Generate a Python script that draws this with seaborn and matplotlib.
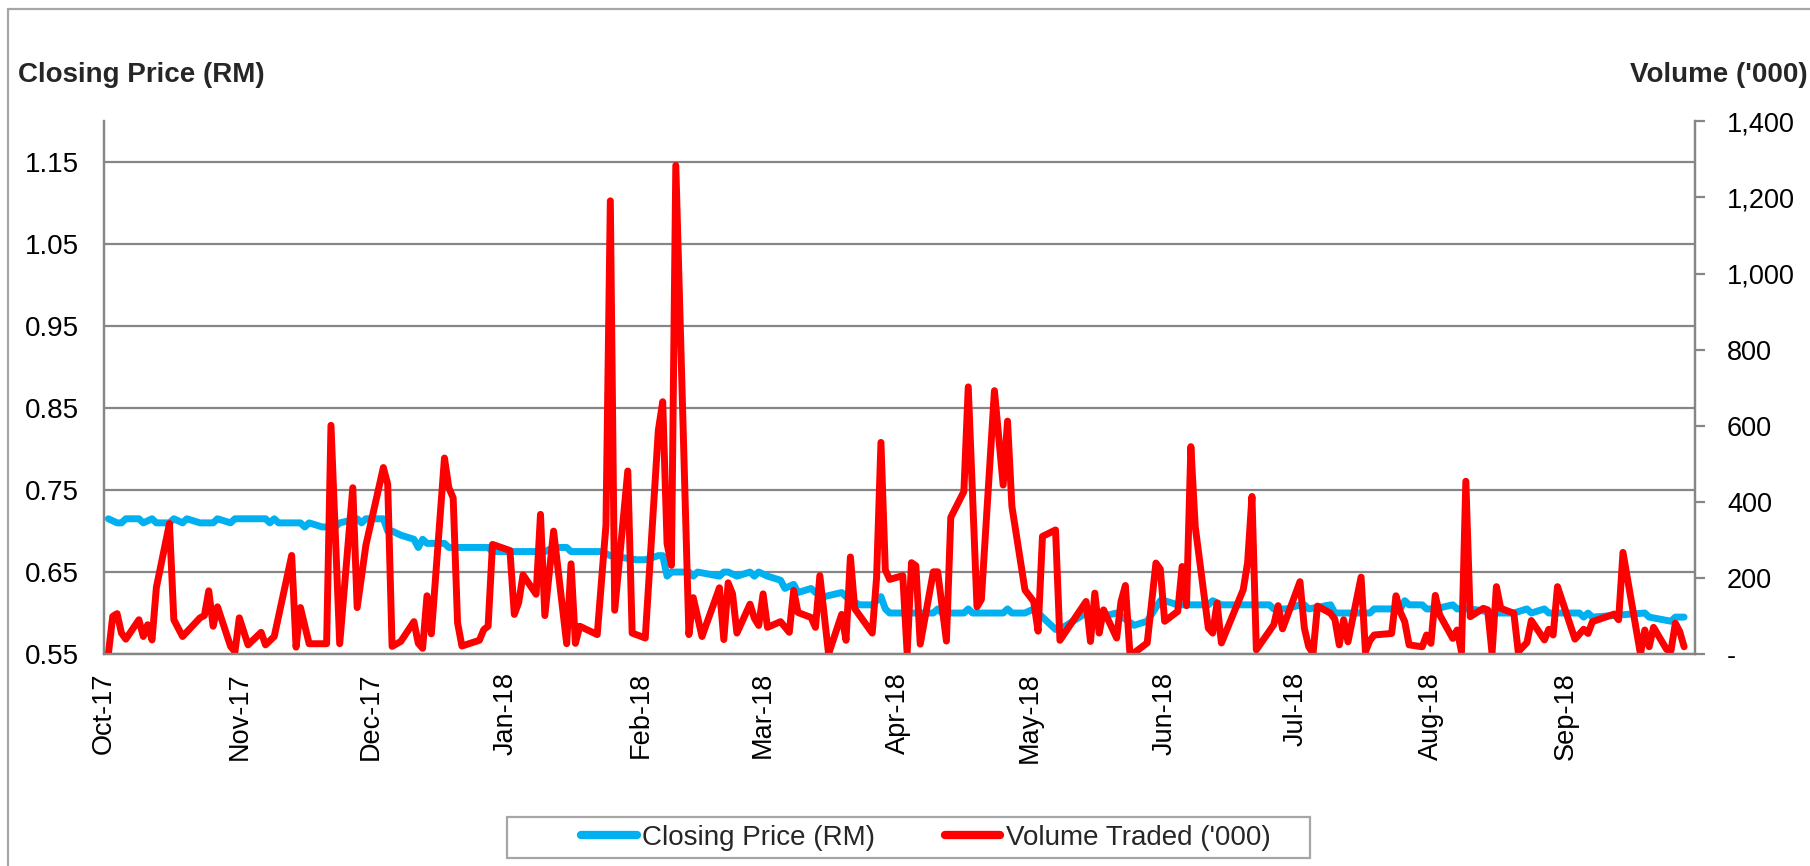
import numpy as np
import pandas as pd
import seaborn as sns
import matplotlib.pyplot as plt
import matplotlib.dates as mdates
from matplotlib.ticker import FuncFormatter
from matplotlib.lines import Line2D
from matplotlib.patches import Rectangle

# volume traded ('000), trading days
vol_dates = [
    '2017-10-02', '2017-10-03', '2017-10-04', '2017-10-05', '2017-10-06', '2017-10-09', '2017-10-10', '2017-10-11', '2017-10-12', '2017-10-13',
    '2017-10-16', '2017-10-17', '2017-10-19', '2017-10-23', '2017-10-24', '2017-10-25', '2017-10-26', '2017-10-27', '2017-10-30', '2017-10-31',
    '2017-11-01', '2017-11-03', '2017-11-06', '2017-11-07', '2017-11-09', '2017-11-13', '2017-11-14', '2017-11-15', '2017-11-17', '2017-11-20',
    '2017-11-21', '2017-11-22', '2017-11-24', '2017-11-27', '2017-11-28', '2017-11-30', '2017-12-04', '2017-12-05', '2017-12-06', '2017-12-08',
    '2017-12-11', '2017-12-12', '2017-12-13', '2017-12-14', '2017-12-15', '2017-12-18', '2017-12-19', '2017-12-20', '2017-12-21', '2017-12-22',
    '2017-12-26', '2017-12-27', '2017-12-28', '2017-12-29', '2018-01-02', '2018-01-03', '2018-01-04', '2018-01-05', '2018-01-08', '2018-01-09',
    '2018-01-10', '2018-01-12', '2018-01-15', '2018-01-16', '2018-01-17', '2018-01-18', '2018-01-22', '2018-01-24', '2018-01-25', '2018-01-26',
    '2018-01-29', '2018-01-30', '2018-02-02', '2018-02-05', '2018-02-06', '2018-02-07', '2018-02-08', '2018-02-09', '2018-02-12', '2018-02-13',
    '2018-02-15', '2018-02-19', '2018-02-20', '2018-02-21', '2018-02-22', '2018-02-23', '2018-02-26', '2018-02-27', '2018-02-28', '2018-03-01',
    '2018-03-02', '2018-03-05', '2018-03-07', '2018-03-08', '2018-03-09', '2018-03-12', '2018-03-13', '2018-03-14', '2018-03-16', '2018-03-19',
    '2018-03-20', '2018-03-21', '2018-03-22', '2018-03-26', '2018-03-27', '2018-03-28', '2018-03-29', '2018-03-30', '2018-04-02', '2018-04-03',
    '2018-04-04', '2018-04-05', '2018-04-06', '2018-04-09', '2018-04-10', '2018-04-12', '2018-04-13', '2018-04-16', '2018-04-17', '2018-04-19',
    '2018-04-20', '2018-04-23', '2018-04-25', '2018-04-26', '2018-04-27', '2018-04-30', '2018-05-02', '2018-05-03', '2018-05-04', '2018-05-07',
    '2018-05-08', '2018-05-14', '2018-05-15', '2018-05-16', '2018-05-17', '2018-05-18', '2018-05-21', '2018-05-22', '2018-05-23', '2018-05-24',
    '2018-05-25', '2018-05-28', '2018-05-30', '2018-05-31', '2018-06-01', '2018-06-04', '2018-06-05', '2018-06-06', '2018-06-07', '2018-06-08',
    '2018-06-11', '2018-06-12', '2018-06-13', '2018-06-14', '2018-06-19', '2018-06-20', '2018-06-21', '2018-06-22', '2018-06-26', '2018-06-27',
    '2018-06-28', '2018-07-02', '2018-07-03', '2018-07-04', '2018-07-05', '2018-07-06', '2018-07-09', '2018-07-10', '2018-07-11', '2018-07-12',
    '2018-07-13', '2018-07-16', '2018-07-17', '2018-07-18', '2018-07-19', '2018-07-23', '2018-07-24', '2018-07-25', '2018-07-26', '2018-07-27',
    '2018-07-30', '2018-07-31', '2018-08-01', '2018-08-02', '2018-08-03', '2018-08-06', '2018-08-07', '2018-08-08', '2018-08-09', '2018-08-10',
    '2018-08-13', '2018-08-14', '2018-08-15', '2018-08-16', '2018-08-17', '2018-08-20', '2018-08-21', '2018-08-23', '2018-08-24', '2018-08-27',
    '2018-08-28', '2018-08-29', '2018-08-30', '2018-09-03', '2018-09-05', '2018-09-06', '2018-09-07', '2018-09-12', '2018-09-13', '2018-09-14',
    '2018-09-18', '2018-09-19', '2018-09-20', '2018-09-21', '2018-09-24', '2018-09-25', '2018-09-26', '2018-09-27', '2018-09-28',
]
vol_values = [
    0, 99, 106, 55, 39, 90, 46, 77, 37, 175,
    343, 90, 46, 95, 101, 166, 73, 124, 20, 6,
    95, 24, 57, 24, 46, 259, 18, 122, 27, 27,
    27, 601, 27, 437, 122, 286, 490, 446, 20, 33,
    85, 28, 15, 153, 53, 515, 437, 410, 82, 21,
    36, 64, 73, 288, 272, 104, 135, 208, 157, 367,
    101, 323, 27, 237, 28, 73, 51, 339, 1191, 115,
    481, 55, 42, 588, 663, 290, 233, 1284, 51, 148,
    46, 174, 38, 187, 158, 55, 131, 94, 75, 158,
    70, 85, 57, 167, 109, 96, 70, 206, 0, 104,
    36, 255, 119, 55, 201, 556, 221, 196, 206, 2,
    240, 232, 26, 216, 216, 34, 359, 427, 702, 124,
    143, 692, 444, 612, 388, 168, 138, 60, 309, 326,
    36, 138, 33, 160, 55, 116, 42, 138, 180, 7,
    3, 29, 239, 223, 86, 112, 230, 127, 545, 335,
    68, 55, 134, 29, 169, 240, 414, 11, 77, 127,
    66, 190, 68, 19, 2, 126, 107, 91, 24, 90,
    32, 202, 6, 35, 50, 54, 153, 110, 85, 24,
    19, 50, 28, 154, 103, 41, 63, 6, 454, 98,
    120, 116, 2, 177, 120, 107, 6, 30, 88, 37,
    65, 50, 177, 39, 65, 54, 85, 105, 90, 267,
    0, 63, 19, 70, 12, 9, 81, 59, 19,
]

# closing price (RM), turning points
price_dates = [
    '2017-10-02', '2017-10-04', '2017-10-05', '2017-10-06', '2017-10-09', '2017-10-10', '2017-10-12', '2017-10-13', '2017-10-16', '2017-10-17',
    '2017-10-19', '2017-10-20', '2017-10-23', '2017-10-26', '2017-10-27', '2017-10-30', '2017-10-31', '2017-11-07', '2017-11-08', '2017-11-09',
    '2017-11-10', '2017-11-15', '2017-11-16', '2017-11-17', '2017-11-20', '2017-11-23', '2017-11-24', '2017-11-28', '2017-11-29', '2017-11-30',
    '2017-12-04', '2017-12-05', '2017-12-06', '2017-12-08', '2017-12-11', '2017-12-12', '2017-12-13', '2017-12-14', '2017-12-18', '2017-12-19',
    '2017-12-28', '2017-12-29', '2018-01-10', '2018-01-12', '2018-01-15', '2018-01-16', '2018-01-23', '2018-01-25', '2018-01-31', '2018-02-02',
    '2018-02-05', '2018-02-06', '2018-02-07', '2018-02-08', '2018-02-12', '2018-02-13', '2018-02-14', '2018-02-19', '2018-02-20', '2018-02-21',
    '2018-02-23', '2018-02-26', '2018-02-27', '2018-02-28', '2018-03-02', '2018-03-05', '2018-03-06', '2018-03-08', '2018-03-09', '2018-03-12',
    '2018-03-13', '2018-03-15', '2018-03-19', '2018-03-20', '2018-03-23', '2018-03-26', '2018-03-28', '2018-03-29', '2018-03-30', '2018-04-09',
    '2018-04-10', '2018-04-11', '2018-04-16', '2018-04-17', '2018-04-18', '2018-04-25', '2018-04-26', '2018-04-27', '2018-04-30', '2018-05-02',
    '2018-05-03', '2018-05-04', '2018-05-07', '2018-05-08', '2018-05-14', '2018-05-17', '2018-05-21', '2018-05-25', '2018-05-28', '2018-05-31',
    '2018-06-01', '2018-06-04', '2018-06-11', '2018-06-12', '2018-06-14', '2018-06-22', '2018-06-25', '2018-06-26', '2018-06-29', '2018-07-02',
    '2018-07-03', '2018-07-04', '2018-07-09', '2018-07-10', '2018-07-18', '2018-07-19', '2018-07-25', '2018-07-26', '2018-07-27', '2018-07-30',
    '2018-07-31', '2018-08-02', '2018-08-06', '2018-08-07', '2018-08-10', '2018-08-16', '2018-08-20', '2018-08-23', '2018-08-24', '2018-08-27',
    '2018-08-28', '2018-09-03', '2018-09-04', '2018-09-05', '2018-09-06', '2018-09-07', '2018-09-19', '2018-09-20', '2018-09-25', '2018-09-26',
    '2018-09-28',
]
price_values = [
    0.715, 0.71, 0.71, 0.715, 0.715, 0.71, 0.715, 0.71, 0.71, 0.715,
    0.71, 0.715, 0.71, 0.71, 0.715, 0.71, 0.715, 0.715, 0.71, 0.715,
    0.71, 0.71, 0.705, 0.71, 0.705, 0.705, 0.71, 0.715, 0.71, 0.715,
    0.715, 0.70, 0.70, 0.695, 0.69, 0.68, 0.69, 0.685, 0.685, 0.68,
    0.68, 0.675, 0.675, 0.68, 0.68, 0.675, 0.675, 0.67, 0.665, 0.665,
    0.67, 0.67, 0.645, 0.65, 0.65, 0.645, 0.65, 0.645, 0.65, 0.65,
    0.645, 0.65, 0.645, 0.65, 0.645, 0.64, 0.63, 0.635, 0.625, 0.63,
    0.625, 0.62, 0.625, 0.62, 0.61, 0.61, 0.62, 0.605, 0.60, 0.60,
    0.605, 0.60, 0.60, 0.605, 0.60, 0.60, 0.605, 0.60, 0.60, 0.605,
    0.60, 0.595, 0.58, 0.58, 0.60, 0.595, 0.60, 0.585, 0.59, 0.615,
    0.615, 0.61, 0.61, 0.615, 0.61, 0.61, 0.61, 0.605, 0.605, 0.61,
    0.61, 0.605, 0.61, 0.60, 0.60, 0.605, 0.605, 0.615, 0.61, 0.61,
    0.605, 0.605, 0.61, 0.605, 0.605, 0.60, 0.60, 0.605, 0.60, 0.605,
    0.60, 0.60, 0.60, 0.595, 0.60, 0.595, 0.60, 0.595, 0.59, 0.595,
    0.595,
]

price_ticks = [0.55, 0.65, 0.75, 0.85, 0.95, 1.05, 1.15]
vol_ticks = [0, 200, 400, 600, 800, 1000, 1200, 1400]

vol = pd.DataFrame({'date': pd.to_datetime(vol_dates), 'volume': vol_values})
price = pd.DataFrame({'date': pd.to_datetime(price_dates), 'price': price_values})

sns.set_theme(style='white')
plt.rcParams['font.family'] = ['Liberation Sans', 'DejaVu Sans']

blue = '#00B0F0'
red = '#FF0000'
grey = '#868686'
W, H = 1810, 866

fig = plt.figure(figsize=(W / 100, H / 100), dpi=100)
ax = fig.add_axes([104 / W, 1 - 654 / H, (1695 - 104) / W, (654 - 121.3) / H])
ax2 = ax.twinx()

sns.lineplot(data=price, x='date', y='price', ax=ax, color=blue, lw=5,
             solid_joinstyle='round', solid_capstyle='round')
sns.lineplot(data=vol, x='date', y='volume', ax=ax2, color=red, lw=5,
             solid_joinstyle='round', solid_capstyle='round')

ax.set_ylim(0.55, 1.20)
ax.set_yticks(price_ticks)
ax.yaxis.set_major_formatter(FuncFormatter(lambda v, p: f'{v:.2f}'))
ax.grid(axis='y', color=grey, lw=1.6)
ax.grid(axis='x', visible=False)
ax.set_axisbelow(True)

ax2.set_ylim(0, 1400)
ax2.set_yticks(vol_ticks)
ax2.yaxis.set_major_formatter(FuncFormatter(lambda v, p: '-' if v == 0 else f'{v:,.0f}'))
ax2.grid(False)

ax.set_xlim(pd.Timestamp('2017-10-01'), pd.Timestamp('2018-09-30 12:00'))
ax.xaxis.set_major_locator(mdates.MonthLocator())
ax.xaxis.set_major_formatter(mdates.DateFormatter('%b-%y'))

for a in (ax, ax2):
    a.set_xlabel('')
    a.set_ylabel('')
    a.spines['top'].set_visible(False)
    for s in ('left', 'right', 'bottom'):
        a.spines[s].set_color(grey)
        a.spines[s].set_linewidth(1.6)

ax.tick_params(axis='y', length=0, pad=18, labelsize=20, labelcolor='black')
ax.tick_params(axis='x', length=0, pad=13, labelsize=19.5, labelcolor='black', labelrotation=90)
ax2.tick_params(axis='y', length=7, width=1.6, color=grey, direction='out', pad=16,
                labelsize=19.5, labelcolor='black')
for lab in ax2.get_yticklabels():
    lab.set_horizontalalignment('left')

fig.text(18 / W, 1 - 75 / H, 'Closing Price (RM)', fontsize=20, fontweight='bold',
         ha='left', va='center')
fig.text(1808 / W, 1 - 75 / H, "Volume ('000)", fontsize=20, fontweight='bold',
         ha='right', va='center')

handles = [Line2D([], [], color=blue, lw=6, solid_capstyle='round'),
           Line2D([], [], color=red, lw=6, solid_capstyle='round')]
fig.legend(handles, ['Closing Price (RM)', "Volume Traded ('000)"], loc='center',
           bbox_to_anchor=(926 / W, 1 - 838 / H), ncol=2, frameon=False, fontsize=20,
           handlelength=2.0, handletextpad=0.2, columnspacing=2.5)
fig.patches.append(Rectangle((507 / W, 1 - 858 / H), (1310 - 507) / W, 41 / H,
                             transform=fig.transFigure, fill=False, edgecolor='#A6A6A6', lw=1.6))
fig.patches.append(Rectangle((8 / W, -0.05), 1.1, 1.05 - 9 / H,
                             transform=fig.transFigure, fill=False, edgecolor='#A6A6A6', lw=1.6))

fig.savefig('out.png', dpi=100)
